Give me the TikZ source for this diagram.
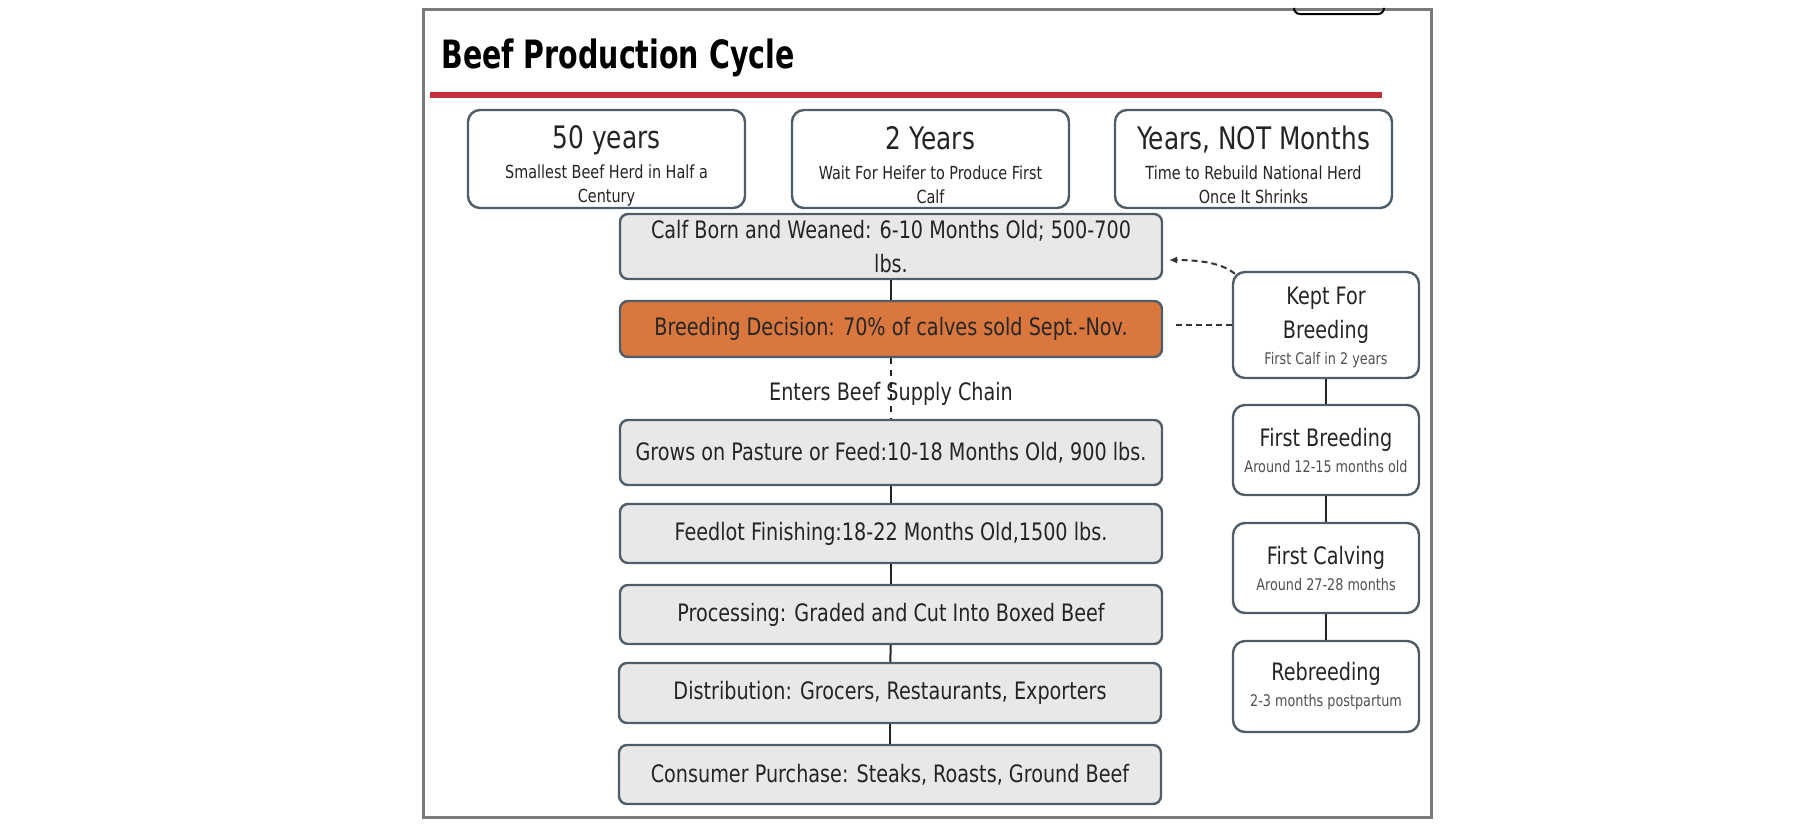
\documentclass[tikz,border=0pt]{standalone}
\usepackage{fontspec}
\setmainfont{DejaVu Sans}[FakeStretch=0.8]
\newfontfamily\titlefont{DejaVu Sans}[FakeStretch=0.73]
\usetikzlibrary{arrows.meta}
\definecolor{boxline}{HTML}{4E5D68}
\definecolor{boxfill}{HTML}{E8E8E8}
\definecolor{decision}{HTML}{DA773F}
\definecolor{titlered}{HTML}{C3313D}
\definecolor{framegray}{HTML}{7A7A7A}
\definecolor{txt}{HTML}{242424}
\definecolor{subgray}{HTML}{505050}
\newcommand\bigtxt{\fontsize{15.5}{18}\selectfont}
\newcommand\subtxt{\fontsize{9}{12}\selectfont}
\newcommand\tinytxt{\fontsize{8}{10}\selectfont\color{subgray}}

\begin{document}
\begin{tikzpicture}[x=0.5pt, y=-0.5pt,
    fact/.style={draw=boxline, line width=1.2pt, rounded corners=6pt, fill=white,
      minimum width=138.5pt, minimum height=49pt, inner sep=0pt, align=center, text=txt, font=\subtxt},
    stage/.style={draw=boxline, line width=1.2pt, rounded corners=4pt, fill=boxfill,
      minimum width=271pt, inner sep=0pt, align=center, text=txt, font=\fontsize{12}{17}\selectfont},
    herd/.style={stage, fill=white, minimum width=93pt, rounded corners=6pt},
    link/.style={draw=txt, line width=1pt},
    back/.style={draw=black!80, line width=1pt, dash pattern=on 3pt off 2pt}]
  \useasboundingbox (0,0) rectangle (1798,826);
  \draw[framegray, line width=1.5pt] (423,9) rectangle (1431,817);
  \draw[line width=1pt, rounded corners=3pt] (1294,9) -- (1294,14) -- (1384,14) -- (1384,9);

  \node[anchor=base west, inner sep=0pt, font=\titlefont\fontsize{19.5}{22}\selectfont\bfseries] (title) at (441,68) {Beef Production Cycle};
  \draw[titlered, line width=3pt] (430,95) -- (1382,95);

  \node[fact] (herdsize) at (606.5,159) {{\bigtxt\rule{0pt}{18pt}50 years}\\[3pt]Smallest Beef Herd in Half a\\Century};
  \node[fact] (heifer) at (930.5,159) {{\bigtxt\rule{0pt}{18pt}2 Years}\\[3pt]Wait For Heifer to Produce First\\Calf};
  \node[fact] (rebuild) at (1253.5,159) {{\bigtxt\rule{0pt}{18pt}Years, NOT Months}\\[3pt]Time to Rebuild National Herd\\Once It Shrinks};

  \node[stage, minimum height=32.5pt] (calf) at (891,246.5) {Calf Born and Weaned: 6-10 Months Old; 500-700\\lbs.};
  \node[stage, fill=decision, minimum height=28pt, text=black!85] (decision) at (891,329) {Breeding Decision: 70\% of calves sold Sept.-Nov.};
  \node[anchor=base, inner sep=0pt, text=txt, font=\fontsize{12}{17}\selectfont] (enters) at (891,400) {Enters Beef Supply Chain};
  \node[stage, minimum height=32.5pt] (pasture) at (891,452.5) {Grows on Pasture or Feed:10-18 Months Old, 900 lbs.};
  \node[stage, minimum height=29.5pt] (feedlot) at (891,533.5) {Feedlot Finishing:18-22 Months Old,1500 lbs.};
  \node[stage, minimum height=29.5pt] (processing) at (891,614.5) {Processing: Graded and Cut Into Boxed Beef};
  \node[stage, minimum height=30pt] (distribution) at (890,693) {Distribution: Grocers, Restaurants, Exporters};
  \node[stage, minimum height=29.5pt] (consumer) at (890,774.5) {Consumer Purchase: Steaks, Roasts, Ground Beef};

  \node[herd, minimum height=53pt] (kept) at (1326,325) {\rule{0pt}{11pt}Kept For\\Breeding\\[-4pt]{\tinytxt First Calf in 2 years}};
  \node[herd, minimum height=45pt] (firstbreed) at (1326,450) {First Breeding\\[-4pt]{\tinytxt Around 12-15 months old}};
  \node[herd, minimum height=45pt] (firstcalf) at (1326,568) {First Calving\\[-4pt]{\tinytxt Around 27-28 months}};
  \node[herd, minimum height=45.5pt] (rebreed) at (1326,686.5) {Rebreeding\\[-4pt]{\tinytxt 2-3 months postpartum}};

  \foreach \a/\b in {calf/decision, pasture/feedlot, feedlot/processing, processing/distribution,
      distribution/consumer, kept/firstbreed, firstbreed/firstcalf, firstcalf/rebreed}
    \draw[link] (\a) -- (\b);
  \draw[link, line width=0.6pt, dash pattern=on 3pt off 3pt] (decision) -- (pasture);

  \coordinate (gap) at (1172,325);
  \coordinate (tip) at (1169,260);
  \draw[back] (kept.west) -- (gap);
  \draw[back, -{Latex[length=4pt, width=3.5pt]}] ([shift={(3,3)}]kept.north west) .. controls (1222,263) and (1200,260) .. (tip);
\end{tikzpicture}
\end{document}
